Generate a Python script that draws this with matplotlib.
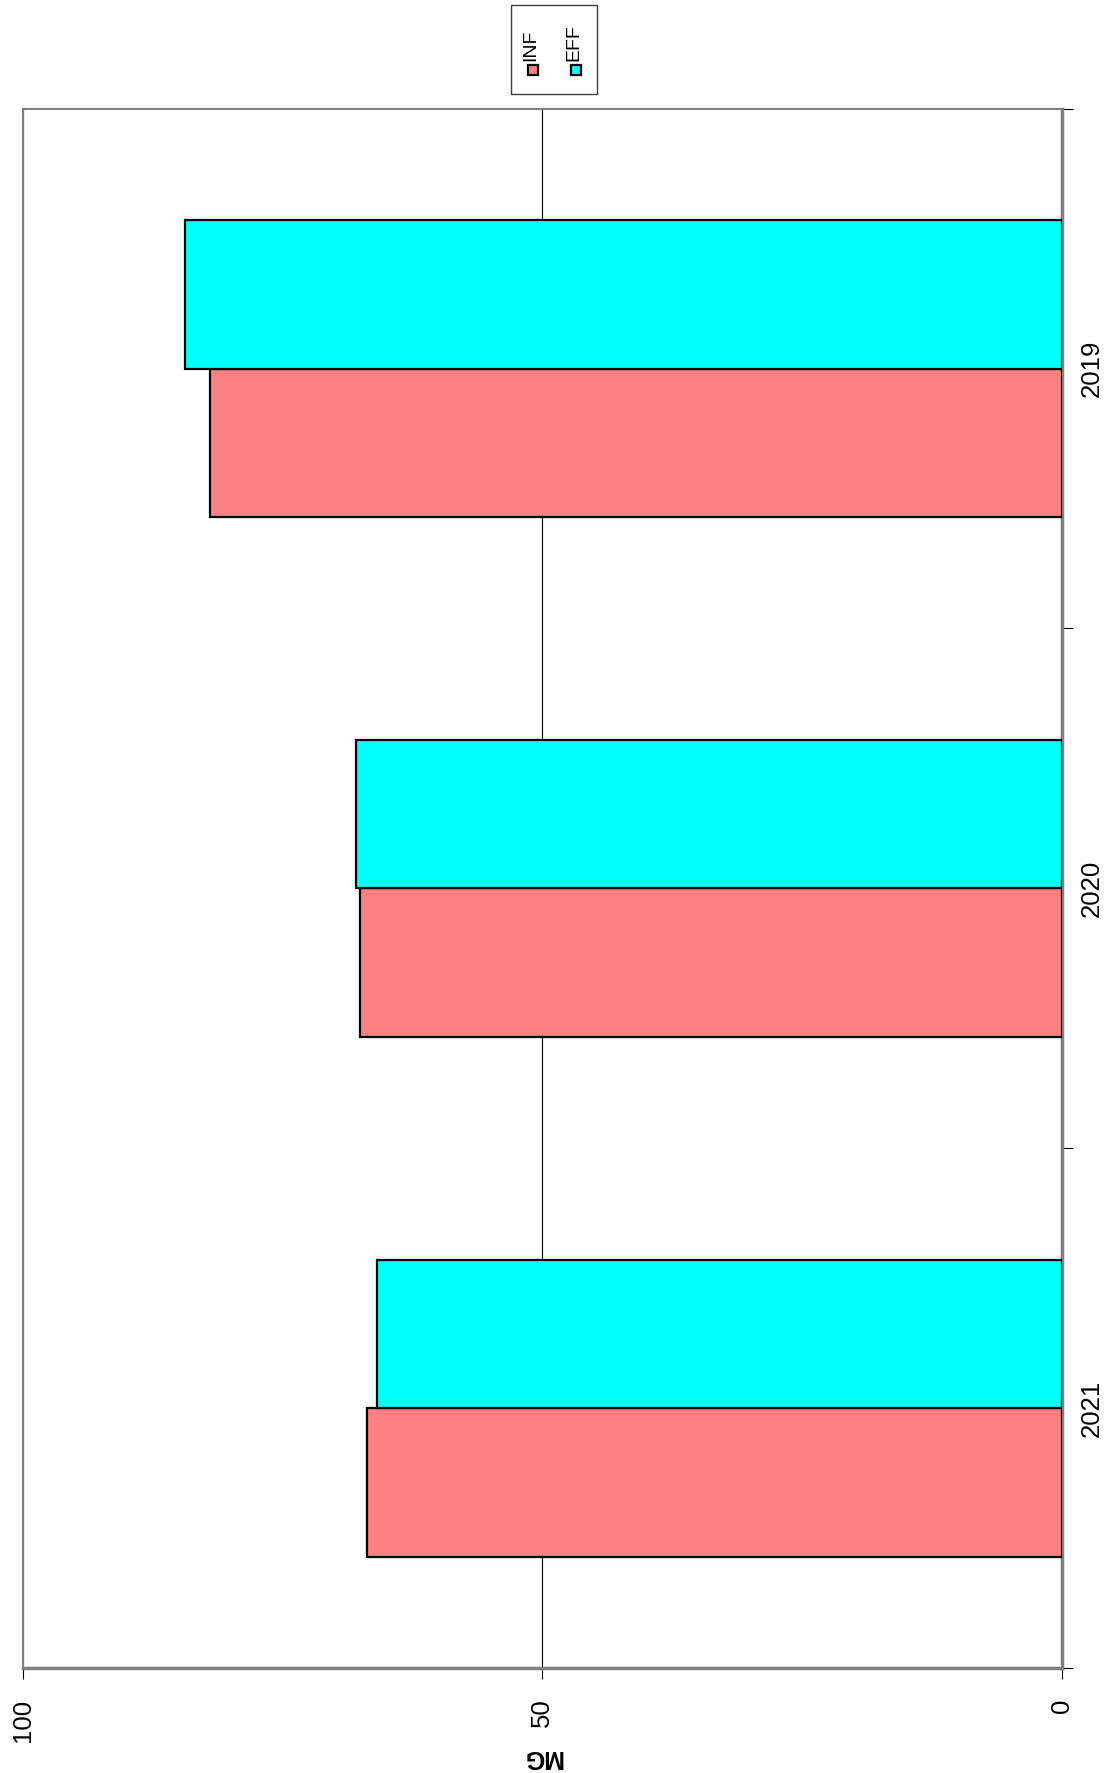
import numpy as np
import matplotlib.pyplot as plt
from matplotlib.patches import Rectangle
from matplotlib.lines import Line2D

plt.rcParams['font.family'] = ['Liberation Sans', 'DejaVu Sans']

# Datos por año (MG)
anios = ['2019', '2020', '2021']
series = ['INF', 'EFF']
valores_inf = [82.0, 67.5, 66.9]
valores_eff = [84.4, 67.9, 65.9]
colores = ['#FF8080', '#00FFFF']

fig = plt.figure(figsize=(11.13, 17.73), dpi=100)
ax = fig.add_axes([0.0203, 0.0592, 0.9339, 0.8795])

# Barras: el gráfico va girado, así que las columnas son horizontales
posiciones = np.arange(len(anios))
ancho = 1 / 3.5
barras = []
for desplazamiento, valores, color in [(ancho / 2, valores_inf, colores[0]),
                                       (-ancho / 2, valores_eff, colores[1])]:
    b = ax.barh(posiciones + desplazamiento, valores, height=ancho, color=color,
                edgecolor='black', linewidth=1.6, zorder=3)
    barras.append(b)

ax.set_xlim(100, 0)
ax.set_ylim(len(anios) - 0.5, -0.5)

# Eje de valores (abajo)
ax.set_xticks([0, 50, 100])
ax.set_xticklabels(['0', '50', '100'], rotation=90, fontsize=18.5)
ax.tick_params(axis='x', direction='out', length=8, width=0.8, pad=14, color='black')
ax.grid(axis='x', color='black', linewidth=0.8, zorder=1)

# Eje de categorías (derecha)
ax.yaxis.tick_right()
ax.set_yticks(posiciones)
ax.set_yticklabels(anios, rotation=90, fontsize=18.5, va='center')
ax.tick_params(axis='y', which='major', length=0, pad=13)
ax.set_yticks(np.arange(len(anios) + 1) - 0.5, minor=True)
ax.tick_params(axis='y', which='minor', direction='out', length=8, width=0.8, color='black')

# Título del eje de valores, girado como el resto del gráfico
fig.text(0.4873, 0.009, 'MG', rotation=180, ha='center', va='center',
         fontsize=18, fontweight='bold')

for lado, grosor in [('left', 1.5), ('top', 1.5), ('right', 2.5), ('bottom', 2.5)]:
    ax.spines[lado].set_color('#808080')
    ax.spines[lado].set_linewidth(grosor)

# Leyenda dibujada a mano con el texto girado
fig.add_artist(Rectangle((0.459, 0.947), 0.0773, 0.0502, transform=fig.transFigure,
                         facecolor='white', edgecolor='#404040', linewidth=1.0))
for x, nombre, color in [(0.4789, series[0], colores[0]), (0.5175, series[1], colores[1])]:
    fig.add_artist(Line2D([x], [0.9605], transform=fig.transFigure, marker='s',
                          markersize=7.5, markerfacecolor=color,
                          markeredgecolor='black', markeredgewidth=1.6, linestyle='none'))
    fig.text(x - 0.0018, 0.9655, nombre, rotation=90, ha='center', va='bottom', fontsize=14)

fig.savefig('out.png', dpi=100, facecolor='white')
